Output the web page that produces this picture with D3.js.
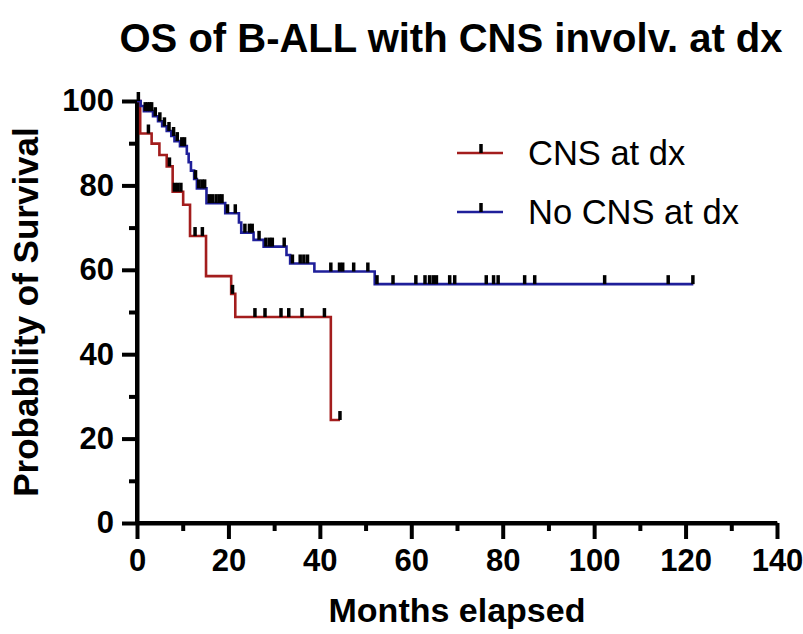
<!DOCTYPE html>
<html>
<head>
<meta charset="utf-8">
<script src="https://cdn.jsdelivr.net/npm/d3@7"></script>
<style>
  body { margin: 0; background: #fff; }
  text { font-family: "Liberation Sans", Arial, sans-serif; }
</style>
</head>
<body>
<div id="chart-area"></div>
<script>
// survival steps: [month, percent] - value holds from that month on
var cnsSteps = [[0,100],[0.7,92.3],[3.2,89.9],[4.9,87.2],[6.5,84.5],[7.8,78.5],[10.1,75.4],
  [11.6,68.0],[15.1,58.5],[20.6,54.3],[21.5,48.8],[42.4,24.4]];
var cnsEnd = 44.4;
var cnsCensor = [2.5, 7.1, 8.2, 8.9, 9.6, 12.7, 14.3, 20.9, 25.8, 28.0, 31.5, 33.2, 36.1, 41.0, 44.4];

var noCnsSteps = [[0,100],[0.8,98.8],[1.5,97.6],[3.5,96.4],[4.6,95.2],[5.5,94.0],[6.5,92.9],
  [7.5,91.7],[8.2,90.5],[9.4,89.3],[10.9,87.5],[11.3,85.5],[11.8,83.5],[12.5,81.5],[13.1,79.3],
  [15.2,75.8],[19.3,73.4],[22.3,71.2],[22.8,68.8],[25.5,67.1],[27.7,65.5],[32.7,63.5],
  [33.5,61.5],[38.8,59.6],[52.0,56.6]];
var noCnsEnd = 121.7;
var noCnsCensor = [0.3, 1.8, 2.3, 2.8, 3.2, 4.0, 5.0, 6.0, 7.0, 8.0, 8.8, 9.8, 10.4, 12.8, 13.5,
  14.2, 14.8, 15.8, 16.5, 17.3, 18.0, 18.6, 19.8, 21.5, 23.6, 24.6, 25.2, 26.7, 28.2, 29.0, 29.6,
  32.2, 34.0, 35.7, 36.5, 37.3, 42.4, 44.3, 45.0, 47.4, 50.5, 52.5, 56.0, 61.0, 63.0, 64.0, 64.8,
  65.5, 68.4, 69.5, 76.4, 78.0, 79.0, 84.8, 87.0, 102.3, 116.2, 121.6];

var xTicks = [0, 20, 40, 60, 80, 100, 120, 140];
var xMinor = [10, 30, 50, 70, 90, 110, 130];
var yTicks = [0, 20, 40, 60, 80, 100];
var yMinor = [10, 30, 50, 70, 90];

var series = [
  {name: "CNS at dx", steps: cnsSteps, end: cnsEnd, censor: cnsCensor, color: "#a31d1d"},
  {name: "No CNS at dx", steps: noCnsSteps, end: noCnsEnd, censor: noCnsCensor, color: "#1f1f9a"}
];

var svg = d3.select("#chart-area").append("svg")
  .attr("width", 803).attr("height", 634);

var x = d3.scaleLinear().domain([0, 140]).range([137, 777]);
var y = d3.scaleLinear().domain([0, 100]).range([523, 101]);

// title
svg.append("text")
  .attr("x", 451).attr("y", 52)
  .attr("text-anchor", "middle")
  .attr("font-size", "40px").attr("font-weight", "bold")
  .text("OS of B-ALL with CNS involv. at dx");

// axes
function styleAxis(sel) {
  sel.selectAll("path, line").attr("stroke", "#000").attr("stroke-width", 4);
  sel.selectAll("text").attr("font-size", "31px").attr("font-weight", "bold")
    .attr("font-family", "Liberation Sans, Arial, sans-serif").attr("fill", "#000");
}

var yMinorAxis = svg.append("g").attr("transform", "translate(" + x(0) + ",0)")
  .call(d3.axisLeft(y).tickValues(yMinor).tickSize(8).tickSizeOuter(0).tickFormat(""));
styleAxis(yMinorAxis);
var yAxis = svg.append("g").attr("transform", "translate(" + x(0) + ",0)")
  .call(d3.axisLeft(y).tickValues(yTicks).tickSize(15).tickSizeOuter(0).tickPadding(8));
styleAxis(yAxis);
yAxis.select(".domain").attr("d", "M0," + y(100) + "V" + (y(0) + 2));

var xMinorAxis = svg.append("g").attr("transform", "translate(0," + y(0) + ")")
  .call(d3.axisBottom(x).tickValues(xMinor).tickSize(8).tickSizeOuter(0).tickFormat(""));
styleAxis(xMinorAxis);
var xAxis = svg.append("g").attr("transform", "translate(0," + y(0) + ")")
  .call(d3.axisBottom(x).tickValues(xTicks).tickSize(16).tickSizeOuter(0).tickPadding(10));
styleAxis(xAxis);
xAxis.select(".domain").attr("d", "M" + (x(0) - 2) + ",0H" + x(140));

// axis titles
svg.append("text")
  .attr("x", 457).attr("y", 622)
  .attr("text-anchor", "middle")
  .attr("font-size", "34px").attr("font-weight", "bold")
  .text("Months elapsed");

svg.append("text")
  .attr("transform", "translate(38," + 312 + ") rotate(-90)")
  .attr("text-anchor", "middle")
  .attr("font-size", "35px").attr("font-weight", "bold")
  .text("Probability of Survival");

// curves
var line = d3.line()
  .x(d => x(d[0]))
  .y(d => y(d[1]))
  .curve(d3.curveStepAfter);

function valueAt(steps, t) {
  var v = steps[0][1];
  steps.forEach(s => { if (s[0] <= t) v = s[1]; });
  return v;
}

series.forEach(s => {
  var pts = s.steps.concat([[s.end, s.steps[s.steps.length - 1][1]]]);
  svg.append("path")
    .attr("d", line(pts))
    .attr("fill", "none")
    .attr("stroke", s.color)
    .attr("stroke-width", 2.6);

  svg.append("g").selectAll("line").data(s.censor).enter().append("line")
    .attr("x1", d => x(d)).attr("x2", d => x(d))
    .attr("y1", d => y(valueAt(s.steps, d)))
    .attr("y2", d => y(valueAt(s.steps, d)) - 9)
    .attr("stroke", "#000")
    .attr("stroke-width", 3.5);
});

// legend
var legend = svg.append("g");
series.forEach((s, i) => {
  var ly = 153 + i * 59;
  legend.append("line")
    .attr("x1", 457).attr("x2", 503).attr("y1", ly).attr("y2", ly)
    .attr("stroke", s.color).attr("stroke-width", 2.6);
  legend.append("line")
    .attr("x1", 481).attr("x2", 481).attr("y1", ly).attr("y2", ly - 9)
    .attr("stroke", "#000").attr("stroke-width", 3.5);
  legend.append("text")
    .attr("x", 528).attr("y", ly + 12)
    .attr("font-size", "34.5px")
    .text(s.name);
});
</script>
</body>
</html>
